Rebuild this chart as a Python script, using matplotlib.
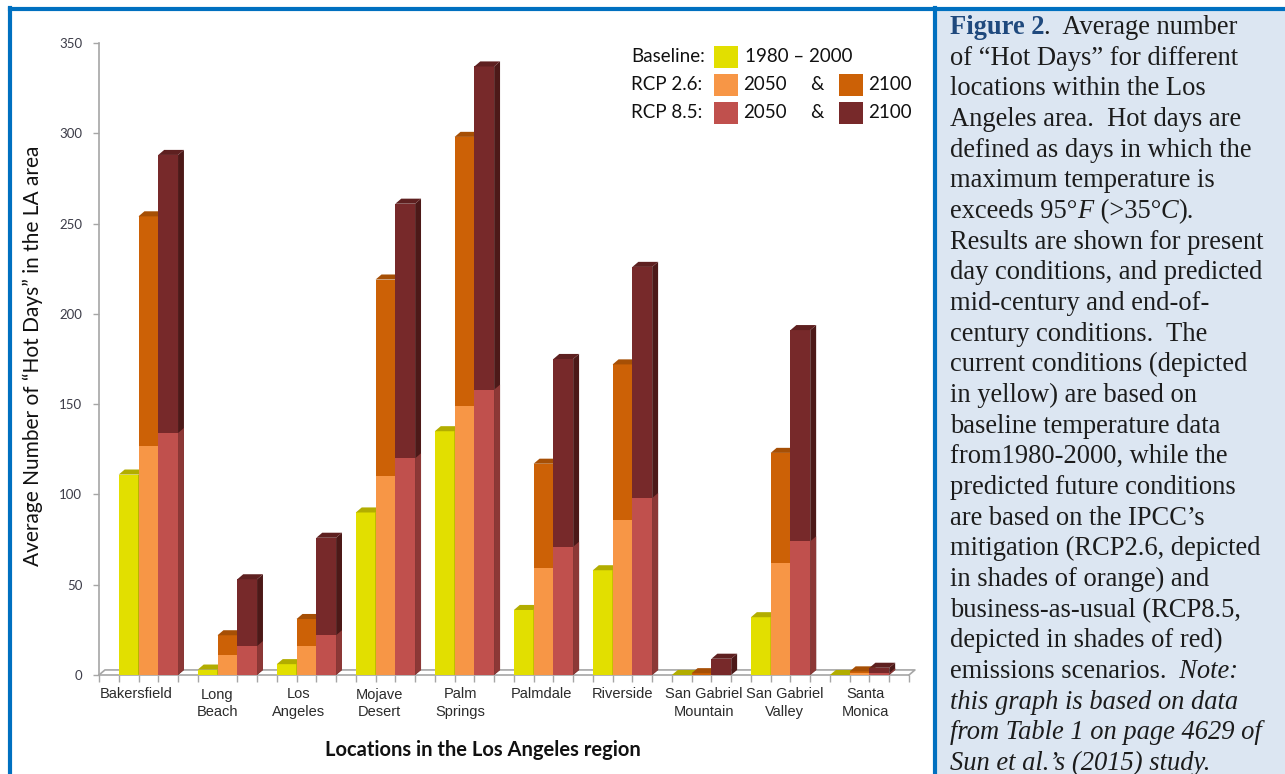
import matplotlib
matplotlib.use("Agg")
import matplotlib.pyplot as plt
from matplotlib.patches import Rectangle

# DATA (hot days per year)
LOCATIONS = ["Bakersfield", "Long\nBeach", "Los\nAngeles", "Mojave\nDesert", "Palm\nSprings",
             "Palmdale", "Riverside", "San Gabriel\nMountain", "San Gabriel\nValley", "Santa\nMonica"]
BASELINE = [111, 3, 6, 90, 135, 36, 58, 0, 32, 0]
RCP26_2050 = [127, 11, 16, 110, 149, 59, 86, 0, 62, 1]
RCP26_2100 = [254, 22, 31, 219, 298, 117, 172, 1, 123, 2]
RCP85_2050 = [134, 16, 22, 120, 158, 71, 98, 0, 74, 1]
RCP85_2100 = [288, 53, 76, 261, 337, 175, 226, 9, 191, 4]
YTICKS = [0, 50, 100, 150, 200, 250, 300, 350]

CAPTION = [
    [("Figure 2", "b"), (".  Average number", "r")],
    [("of \u201cHot Days\u201d for different", "r")],
    [("locations within the Los", "r")],
    [("Angeles area.  Hot days are", "r")],
    [("defined as days in which the", "r")],
    [("maximum temperature is", "r")],
    [("exceeds 95\u00b0", "r"), ("F", "i"), (" (>35\u00b0", "r"), ("C", "i"), (").", "r")],
    [("Results are shown for present", "r")],
    [("day conditions, and predicted", "r")],
    [("mid-century and end-of-", "r")],
    [("century conditions.  The", "r")],
    [("current conditions (depicted", "r")],
    [("in yellow) are based on", "r")],
    [("baseline temperature data", "r")],
    [("from1980-2000, while the", "r")],
    [("predicted future conditions", "r")],
    [("are based on the IPCC\u2019s", "r")],
    [("mitigation (RCP2.6, depicted", "r")],
    [("in shades of orange) and", "r")],
    [("business-as-usual (RCP8.5,", "r")],
    [("depicted in shades of red)", "r")],
    [("emissions scenarios.", "r"), ("  Note:", "i")],
    [("this graph is based on data", "i")],
    [("from Table 1 on page 4629 of", "i")],
    [("Sun et al.\u2019s (2015) study.", "i")],
]

# COLORS
YEL = ("#e2df00", "#8e8b00", "#b2ad00")      # front, side, top
OR1 = ("#f79646", "#c2691f", "#d9782c")
OR2 = ("#cc6106", "#8a4104", "#a64f05")
RD1 = ("#c0504d", "#8c3836", "#a04240")
RD2 = ("#77292a", "#4c1918", "#5e2020")
BLUE = "#0070c0"
PANEL = "#dce6f2"

W, H = 1285, 774
BAR_W = 1.0
DX = 0.3    # 3d depth, in slots
DY = 2.8    # 3d depth, in days


def px(x, y):
    return x / W, 1 - y / H


def box(ax, x, h, col, z):
    front, side, top = col
    ax.bar(x, h, width=BAR_W, align="edge", color=front, linewidth=0, zorder=z)
    ax.fill([x + BAR_W, x + BAR_W + DX, x + BAR_W + DX, x + BAR_W], [0, DY, h + DY, h],
            color=side, linewidth=0, zorder=z, clip_on=False)
    ax.fill([x, x + DX, x + BAR_W + DX, x + BAR_W], [h, h + DY, h + DY, h],
            color=top, linewidth=0, zorder=z, clip_on=False)


def front_part(ax, x, h, col, z):
    front, side, top = col
    ax.bar(x, h, width=BAR_W, align="edge", color=front, linewidth=0, zorder=z)
    ax.fill([x + BAR_W, x + BAR_W + DX, x + BAR_W + DX, x + BAR_W], [0, DY, h + DY, h],
            color=side, linewidth=0, zorder=z, clip_on=False)


fig = plt.figure(figsize=(W / 100, H / 100), dpi=100)
fig.patch.set_facecolor("white")

# frame + caption panel
fig.patches.append(Rectangle(px(937, 774), (W - 937) / W, (774 - 11) / H,
                             transform=fig.transFigure, facecolor=PANEL, edgecolor="none", zorder=0))
fig.lines.append(plt.Line2D([10 / W, 1], [1 - 9 / H] * 2, transform=fig.transFigure, color=BLUE, lw=3))
fig.lines.append(plt.Line2D([10 / W] * 2, [0, 1 - 7.5 / H], transform=fig.transFigure, color=BLUE, lw=3))
fig.lines.append(plt.Line2D([935 / W] * 2, [0, 1 - 7.5 / H], transform=fig.transFigure, color=BLUE, lw=3))

ax = fig.add_axes([99 / W, (H - 675) / H, 810 / W, 632 / H])
ax.patch.set_alpha(0)
ax.set_xlim(0, 41)
ax.set_ylim(0, 350)

for i in range(len(LOCATIONS)):
    x0 = 4 * i + 1
    box(ax, x0, BASELINE[i], YEL, 3 + 3 * i)
    box(ax, x0 + 1, RCP26_2100[i], OR2, 4 + 3 * i)
    front_part(ax, x0 + 1, RCP26_2050[i], OR1, 4.5 + 3 * i)
    box(ax, x0 + 2, RCP85_2100[i], RD2, 5 + 3 * i)
    front_part(ax, x0 + 2, RCP85_2050[i], RD1, 5.5 + 3 * i)

# floor and axes
grey = "#a6a6a6"
for s in ["top", "right"]:
    ax.spines[s].set_visible(False)
for s in ["left", "bottom"]:
    ax.spines[s].set_color(grey)
    ax.spines[s].set_linewidth(1.2)
ax.plot([0, DX, 41 + DX, 41], [0, DY, DY, 0], color=grey, lw=1.2, clip_on=False, zorder=1)

ax.set_yticks(YTICKS)
ax.tick_params(axis="y", length=4, width=1, color=grey, pad=8, labelsize=9.5, labelcolor="#3c3c48")
for lab in ax.get_yticklabels():
    lab.set_family("Lato")

ax.set_xticks([4.1 * i + 1.9 for i in range(len(LOCATIONS))])
ax.set_xticklabels(LOCATIONS, family="Liberation Sans", fontsize=10.5, color="#2b2b2b", linespacing=1.3)
ax.set_xticks(range(42), minor=True)
ax.tick_params(axis="x", which="major", length=0, pad=9)
ax.tick_params(axis="x", which="minor", length=5, width=1, color=grey)

fig.text(*px(33, 356), "Average Number of \u201cHot Days\u201d in the LA area", rotation=90,
         ha="center", va="center", family="Lato", fontsize=15, color="#111111")
fig.text(*px(483, 756), "Locations in the Los Angeles region", ha="center", va="baseline",
         family="Lato", fontweight="bold", fontsize=14.5, color="#111111")

# legend
leg_font = dict(family="Lato", fontsize=13.5, color="#111111", va="center")
rows = [("Baseline:", [(YEL[0], "1980 \u2013 2000")]),
        ("RCP 2.6:", [(OR1[0], "2050"), (OR2[0], "2100")]),
        ("RCP 8.5:", [(RD1[0], "2050"), (RD2[0], "2100")])]
for r, (name, items) in enumerate(rows):
    yc = 57 + 28 * r
    fig.text(*px(631, yc), name, **leg_font)
    for k, (c, lab) in enumerate(items):
        xs = 714 + 125 * k
        fig.patches.append(Rectangle(px(xs, yc + 10.5), 24 / W, 21 / H, transform=fig.transFigure,
                                     facecolor=c, edgecolor="none"))
        fig.text(*px(xs + 31 - (2 if r else 0), yc), lab, **leg_font)
    if len(items) > 1:
        fig.text(*px(810, yc), "&", **leg_font)

# caption
cap = fig.add_axes([0, 0, 1, 1])
cap.axis("off")
cap.patch.set_alpha(0)
cap.set_zorder(5)
styles = {"r": dict(family="Liberation Serif", color="#1c1c1c"),
          "b": dict(family="Liberation Serif", fontweight="bold", color="#1f497d"),
          "i": dict(family="Liberation Serif", fontstyle="italic", color="#1c1c1c")}
for n, line in enumerate(CAPTION):
    yb = 34 + 30.67 * n
    s, st = line[0]
    t = cap.text(950 / W, 1 - yb / H, s, fontsize=19.1, va="baseline", transform=fig.transFigure, **styles[st])
    for s, st in line[1:]:
        t = cap.annotate(s, xy=(1, 0), xycoords=t, va="bottom", ha="left", fontsize=19.1, **styles[st])

fig.savefig("out.png", dpi=100)
